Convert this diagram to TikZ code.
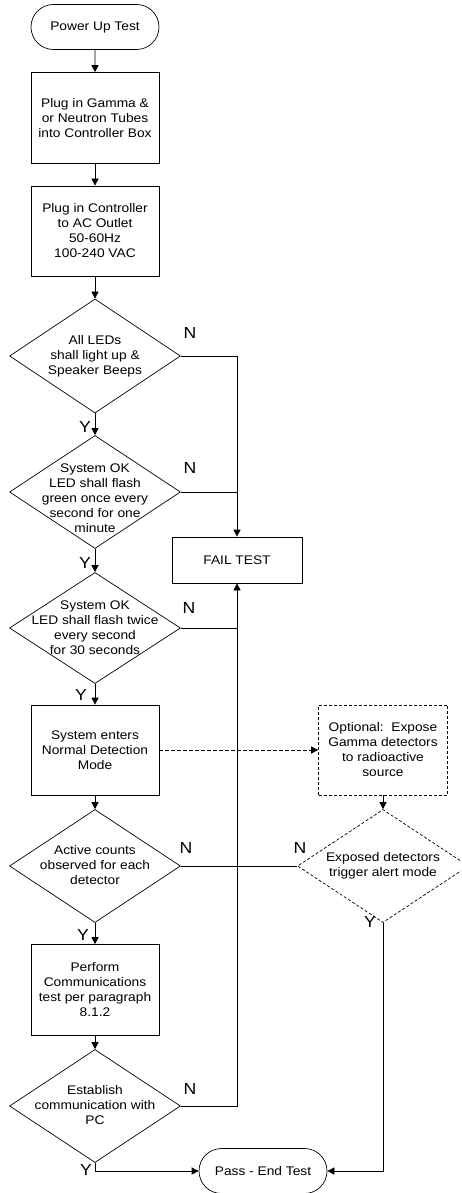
\documentclass[tikz,border=0pt]{standalone}
\usepackage{fontspec}
\setmainfont[FakeStretch=1.1]{Liberation Sans}
\usetikzlibrary{arrows.meta,shapes.geometric,shapes.misc}
\begin{document}
\begin{tikzpicture}[x=1pt,y=-1pt, line width=0.7pt,
 txt/.style={font=\fontsize{12.5}{15}\selectfont, align=center, inner sep=0},
 lbl/.style={font=\fontsize{16}{16}\selectfont, inner sep=0},
 box/.style={draw, minimum width=128pt, minimum height=91pt, inner sep=0, txt},
 dia/.style={draw, diamond, minimum width=171pt, minimum height=114pt, inner sep=0},
 term/.style={draw, rounded rectangle, minimum width=128pt, minimum height=45pt, inner sep=0, txt},
 arr/.style={-{Triangle[length=7pt,width=7pt]}},
 dsh/.style={dash pattern=on 3pt off 2pt},
 ]
\useasboundingbox (0,0) rectangle (461,1193);
\clip (0,0) rectangle (461,1193);

\node[term] (start) at (95,27) {Power Up Test};
\node[box] (b1) at (95,118) {Plug in Gamma \&\\or Neutron Tubes\\into Controller Box};
\node[box, minimum height=90pt] (b2) at (95,231) {Plug in Controller\\to AC Outlet\\50-60Hz\\100-240 VAC};

\node[dia] (d1) at (95,356) {};
\node[txt] at (95,356) {All LEDs\\shall light up \&\\Speaker Beeps};
\node[dia, minimum height=113pt] (d2) at (95,492) {};
\node[txt] at (95,498) {System OK\\LED shall flash\\green once every\\second for one\\minute};
\node[dia, minimum height=111pt] (d3) at (95,628) {};
\node[txt] at (95,628) {System OK\\LED shall flash twice\\every second\\for 30 seconds};

\node[box, minimum height=90pt] (b3) at (95,750) {System enters\\Normal Detection\\Mode};
\node[dia, minimum height=113pt] (d4) at (95,866) {};
\node[txt] at (95,865) {Active counts\\observed for each\\detector};
\node[box] (b4) at (95,990) {Perform\\Communications\\test per paragraph\\8.1.2};
\node[dia, minimum height=113pt] (d5) at (95,1106) {};
\node[txt] at (95,1105) {Establish\\communication with\\PC};

\node[draw, minimum width=130pt, minimum height=46pt, inner sep=0, txt] (fail) at (237,560) {FAIL TEST};
\node[box, dsh, minimum width=129pt, minimum height=90pt] (opt) at (383,750) {Optional:\ \ Expose\\Gamma detectors\\to radioactive\\source};
\node[dia, dsh, minimum height=113pt] (dd) at (383,866) {};
\node[txt] at (383,866) {Exposed detectors\\trigger alert mode};
\node[term] (pass) at (263,1171) {Pass - End Test};

% main flow
\draw[arr] (start) -- (b1);
\draw[arr] (b1) -- (b2);
\draw[arr] (b2) -- (d1);
\draw[arr] (d1) -- (d2);
\draw[arr] (d2) -- (d3);
\draw[arr] (d3) -- (b3);
\draw[arr] (b3) -- (d4);
\draw[arr] (d4) -- (b4);
\draw[arr] (b4) -- (d5);
\draw[arr] (d5.south) |- (pass.west);

% fail branches
\draw[arr] (d1.east) -| (fail.north);
\draw (d2.east) -- (d2.east -| fail.north);
\draw (d3.east) -- (d3.east -| fail.south);
\draw[arr] (d5.east) -| (fail.south);
\draw (d4.east) -- (dd.west);

% optional branch
\draw[arr, dash pattern=on 4pt off 2pt] (b3.east) -- (opt.west);
\draw[arr] (opt) -- (dd);
\draw[arr] (dd.south) |- (pass.east);

% labels
\node[lbl] at (190,333) {N};
\node[lbl] at (190,468) {N};
\node[lbl] at (189,608) {N};
\node[lbl] at (186,848) {N};
\node[lbl] at (190,1089) {N};
\node[lbl] at (300,848) {N};
\node[lbl] at (85,427) {Y};
\node[lbl] at (85,563) {Y};
\node[lbl] at (81,695) {Y};
\node[lbl] at (83,935) {Y};
\node[lbl] at (86,1170) {Y};
\node[lbl] at (370,922) {Y};
\end{tikzpicture}
\end{document}
